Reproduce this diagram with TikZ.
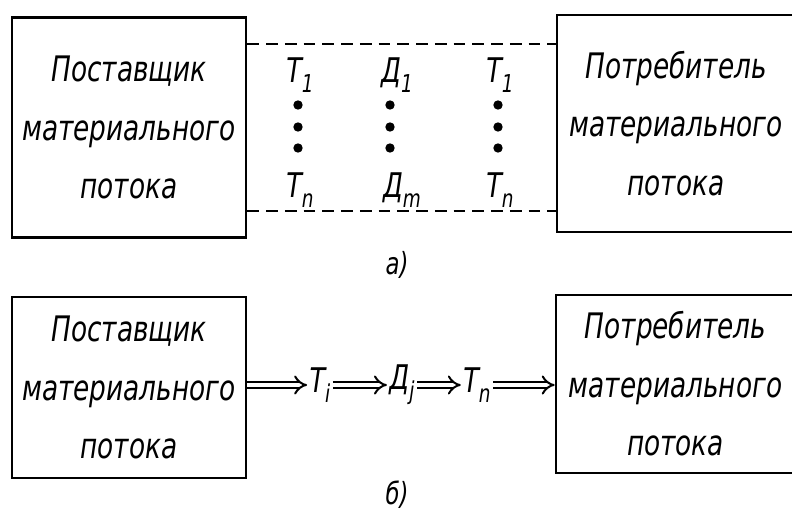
\documentclass[tikz,border=0pt]{standalone}
\usepackage{fontspec}
\usepackage{tikz}
\usetikzlibrary{arrows.meta,positioning,calc}
\newfontfamily\draftfont{DejaVu Sans}[FakeStretch=0.75]
\newcommand{\lsub}[1]{\raisebox{-0.55ex}{\fontsize{21}{21}\selectfont #1}}

\begin{document}
\begin{tikzpicture}[
    x=0.03cm, y=-0.03cm,
    box/.style={draw, line width=2.3pt, align=center, inner sep=0pt,
        font=\draftfont\itshape\fontsize{30}{50}\selectfont},
    sym/.style={inner sep=2pt, font=\draftfont\itshape\fontsize{29}{29}\selectfont},
    pt/.style={circle, fill, inner sep=0pt, minimum size=8pt},
    dline/.style={dashed, dash pattern=on 10pt off 6pt, line width=1.9pt},
    dbl/.style={double, double distance=3.8pt, line width=1.7pt, -{Implies[scale=1.25]}},
    sublbl/.style={font=\draftfont\itshape\fontsize{26}{26}\selectfont}
]
\useasboundingbox (0,0) rectangle (792,512);

% а)
\node[box, minimum width=7.02cm, minimum height=6.6cm] (sup1) at (129,127.5)
    {Поставщик\\материального\\потока};
\node[box, minimum width=7.14cm, minimum height=6.51cm] (con1) at (676,123.5)
    {Потребитель\\материального\\потока};

\path (sup1.north east) ++(0,28) coordinate (dt);
\path (sup1.north east) ++(0,195) coordinate (db);
\draw[dline] (dt) -- (dt -| con1.west);
\draw[dline] (db) -- (db -| con1.west);

\node[sym] (t1) at (300,75) {T\lsub{1}};
\node[sym] (tn) at (300,190) {T\lsub{n}};
\node[sym] (d1) at (397,75) {Д\lsub{1}};
\node[sym] (dm) at (402,190) {Д\lsub{m}};
\node[sym] (r1) at (500,75) {T\lsub{1}};
\node[sym] (rn) at (500,190) {T\lsub{n}};
\foreach \cx in {298,390,498}
  \foreach \cy in {105,127,148}
    \node[pt] at (\cx,\cy) {};

\node[sublbl] (capa) at (397,265) {а)};

% б)
\node[box, minimum width=7.02cm, minimum height=5.43cm] (sup2) at (129,387.5)
    {Поставщик\\материального\\потока};
\node[box, minimum width=7.17cm, minimum height=5.34cm] (con2) at (675.5,384)
    {Потребитель\\материального\\потока};

\node[sym] (ti) at (320,385) {T\lsub{i}};
\node[sym] (dj) at (402,385) {Д\lsub{j}};
\node[sym] (tk) at (477,385) {T\lsub{n}};

\draw[dbl] (sup2.east |- ti) -- (ti.west);
\draw[dbl] (ti) -- (dj);
\draw[dbl] (dj) -- (tk);
\draw[dbl] (tk) -- (tk -| con2.west);

\node[sublbl] (capb) at (397,495) {б)};
\end{tikzpicture}
\end{document}
